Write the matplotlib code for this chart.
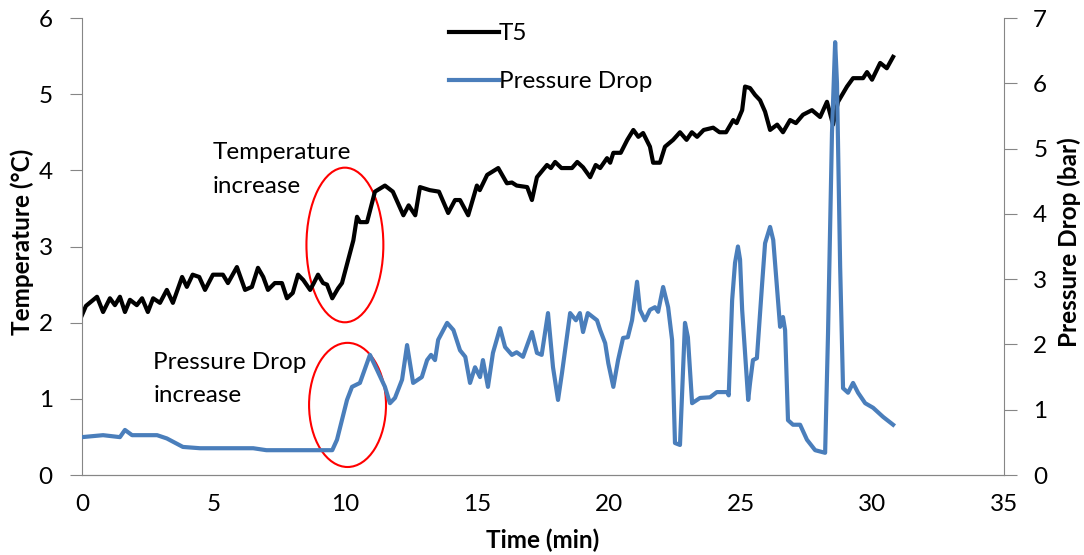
import matplotlib
matplotlib.use('Agg')
import matplotlib.pyplot as plt
from matplotlib.patches import Ellipse

# T5 temperature (left axis)
t5_time = [0.0, 0.15, 0.57, 0.8, 1.06, 1.25, 1.44, 1.63, 1.82, 2.08, 2.28, 2.5, 2.7, 2.96, 3.22, 3.45,
           3.8, 3.98, 4.2, 4.45, 4.67, 4.97, 5.35, 5.54, 5.88, 6.19, 6.45, 6.68, 6.88, 7.06, 7.32, 7.59,
           7.78, 8.0, 8.2, 8.4, 8.66, 8.8, 8.96, 9.15, 9.3, 9.5, 9.72, 9.87, 10.3, 10.44, 10.55, 10.82,
           11.12, 11.5, 11.8, 12.2, 12.4, 12.65, 12.83, 13.2, 13.55, 13.9, 14.16, 14.35, 14.66, 14.99,
           15.1, 15.38, 15.8, 16.13, 16.32, 16.5, 16.9, 17.08, 17.27, 17.65, 17.8, 17.96, 18.2, 18.6,
           18.8, 19.02, 19.29, 19.5, 19.67, 19.93, 20.05, 20.17, 20.45, 20.7, 20.93, 21.12, 21.3, 21.56,
           21.68, 21.94, 22.13, 22.44, 22.7, 22.95, 23.15, 23.35, 23.6, 23.96, 24.2, 24.45, 24.72, 24.85,
           25.06, 25.17, 25.36, 25.55, 25.74, 25.93, 26.12, 26.39, 26.61, 26.88, 27.1, 27.37, 27.71,
           28.02, 28.28, 28.51, 28.7, 29.04, 29.27, 29.65, 29.8, 29.99, 30.3, 30.55, 30.79]
t5_temp = [2.10, 2.22, 2.34, 2.14, 2.32, 2.23, 2.34, 2.14, 2.30, 2.23, 2.32, 2.14, 2.32, 2.26, 2.43, 2.26,
           2.60, 2.47, 2.63, 2.60, 2.43, 2.63, 2.63, 2.52, 2.73, 2.43, 2.47, 2.72, 2.60, 2.43, 2.52, 2.52,
           2.32, 2.39, 2.63, 2.56, 2.43, 2.52, 2.63, 2.52, 2.50, 2.32, 2.45, 2.52, 3.08, 3.39, 3.32, 3.32,
           3.72, 3.80, 3.72, 3.41, 3.54, 3.41, 3.78, 3.74, 3.72, 3.44, 3.61, 3.61, 3.41, 3.80,
           3.74, 3.94, 4.03, 3.83, 3.84, 3.80, 3.78, 3.61, 3.91, 4.07, 4.03, 4.11, 4.03, 4.03,
           4.11, 4.04, 3.91, 4.07, 4.03, 4.16, 4.10, 4.23, 4.23, 4.40, 4.53, 4.44, 4.49, 4.31,
           4.10, 4.10, 4.31, 4.40, 4.50, 4.40, 4.50, 4.44, 4.53, 4.56, 4.50, 4.50, 4.66, 4.62,
           4.79, 5.10, 5.08, 4.99, 4.92, 4.77, 4.53, 4.60, 4.50, 4.66, 4.62, 4.73, 4.79,
           4.70, 4.90, 4.60, 4.90, 5.10, 5.21, 5.21, 5.29, 5.19, 5.41, 5.34, 5.49]

# Pressure drop (right axis)
dp_time = [0.0, 0.8, 1.44, 1.63, 1.9, 2.47, 2.85, 3.22, 3.83, 4.48, 5.5, 6.5, 7.0, 8.54, 9.5, 9.68,
           10.06, 10.25, 10.55, 10.93, 11.2, 11.5, 11.69, 11.88, 12.15, 12.34, 12.57, 12.9, 13.1, 13.25,
           13.4, 13.52, 13.86, 14.1, 14.35, 14.55, 14.73, 14.92, 15.11, 15.22, 15.41, 15.6, 15.87, 16.06,
           16.32, 16.5, 16.74, 17.08, 17.27, 17.45, 17.69, 17.88, 18.07, 18.22, 18.53, 18.75, 18.9, 19.02,
           19.2, 19.55, 19.67, 19.86, 19.98, 20.17, 20.35, 20.54, 20.72, 20.88, 21.07, 21.18, 21.37, 21.56,
           21.75, 21.87, 22.06, 22.25, 22.4, 22.51, 22.7, 22.89, 23.0, 23.16, 23.46, 23.84, 24.1, 24.49,
           24.55, 24.68, 24.79, 24.9, 24.98, 25.06, 25.29, 25.36, 25.47, 25.62, 25.82, 25.93, 26.12, 26.24,
           26.5, 26.61, 26.69, 26.8, 26.99, 27.26, 27.52, 27.83, 28.21, 28.32, 28.47, 28.59, 28.66, 28.78,
           28.89, 29.08, 29.27, 29.46, 29.73, 30.03, 30.41, 30.79]
dp_bar = [0.58, 0.61, 0.58, 0.69, 0.61, 0.61, 0.61, 0.56, 0.43, 0.41, 0.41, 0.41, 0.38, 0.38, 0.38, 0.54,
          1.15, 1.35, 1.41, 1.84, 1.61, 1.35, 1.10, 1.18, 1.46, 1.99, 1.41, 1.50, 1.76, 1.84,
          1.76, 2.07, 2.33, 2.22, 1.91, 1.81, 1.41, 1.65, 1.50, 1.76, 1.35, 1.87, 2.25, 1.96,
          1.84, 1.88, 1.81, 2.19, 1.87, 1.84, 2.48, 1.65, 1.15, 1.56, 2.48, 2.37, 2.48, 2.19,
          2.48, 2.37, 2.22, 2.02, 1.71, 1.35, 1.76, 2.10, 2.11, 2.37, 2.96, 2.53, 2.37, 2.53,
          2.57, 2.50, 2.88, 2.57, 2.07, 0.49, 0.46, 2.33, 2.11, 1.10, 1.18, 1.19, 1.27, 1.27,
          1.22, 2.68, 3.25, 3.50, 3.30, 2.53, 1.15, 1.41, 1.76, 1.79, 2.94, 3.55, 3.80, 3.60,
          2.27, 2.42, 2.22, 0.84, 0.77, 0.77, 0.54, 0.38, 0.34, 2.17, 5.24, 6.63, 6.00, 3.19,
          1.33, 1.26, 1.41, 1.26, 1.10, 1.03, 0.89, 0.77]

plt.rcParams['font.family'] = ['Lato', 'DejaVu Sans']
fs = 17.5
gray = '#868686'

fig = plt.figure(figsize=(10.84, 5.55), dpi=100)
ax = fig.add_axes([82/1084, 1-475/555, 922/1084, 457/555])
ax2 = ax.twinx()

l1, = ax.plot(t5_time, t5_temp, color='black', lw=3)
l2, = ax2.plot(dp_time, dp_bar, color='#4A7EBB', lw=3)

ax.set_xlim(0, 35)
ax.set_ylim(0, 6)
ax2.set_ylim(0, 7)
ax.set_xticks(range(0, 36, 5))
ax.set_yticks(range(0, 7))
ax2.set_yticks(range(0, 8))

for a in (ax, ax2):
    a.spines['top'].set_visible(False)
    for s in ('left', 'right', 'bottom'):
        a.spines[s].set_color(gray)
ax.spines['right'].set_visible(False)
ax2.spines['left'].set_visible(False)
ax.tick_params(axis='y', direction='out', length=9, color=gray, labelsize=fs, pad=12)
ax2.tick_params(axis='y', direction='out', length=9, color=gray, labelsize=fs, pad=12)
ax.tick_params(axis='x', length=0, labelsize=fs, pad=14)

ax.set_ylabel('Temperature (°C)', fontsize=fs, fontweight='bold')
ax.yaxis.set_label_coords(-0.052, 0.51)
ax2.set_ylabel('Pressure Drop (bar)', fontsize=fs, fontweight='bold', rotation=90)
ax2.yaxis.set_label_coords(1.0575, 0.51)
ax.set_xlabel('Time (min)', fontsize=fs, fontweight='bold')
ax.xaxis.set_label_coords(0.5, -0.118)

# annotations
ax.add_patch(Ellipse((9.98, 3.02), 2.92, 2.03, fill=False, edgecolor='red', lw=1.5))
ax.add_patch(Ellipse((10.08, 0.92), 2.92, 1.63, fill=False, edgecolor='red', lw=1.5))
ax.text(4.97, 4.37, 'Temperature\nincrease', fontsize=fs, ha='left', va='top', linespacing=1.75)
ax.text(2.7, 1.62, 'Pressure Drop\nincrease', fontsize=fs, ha='left', va='top', linespacing=1.75)

fig.legend([l1, l2], ['T5', 'Pressure Drop'], loc='upper left', bbox_to_anchor=(449/1084, 1-23/555),
           frameon=False, fontsize=fs, handlelength=2.05, handletextpad=0.0, labelspacing=1.12,
           borderpad=0, borderaxespad=0)

fig.savefig('out.png', dpi=100)
